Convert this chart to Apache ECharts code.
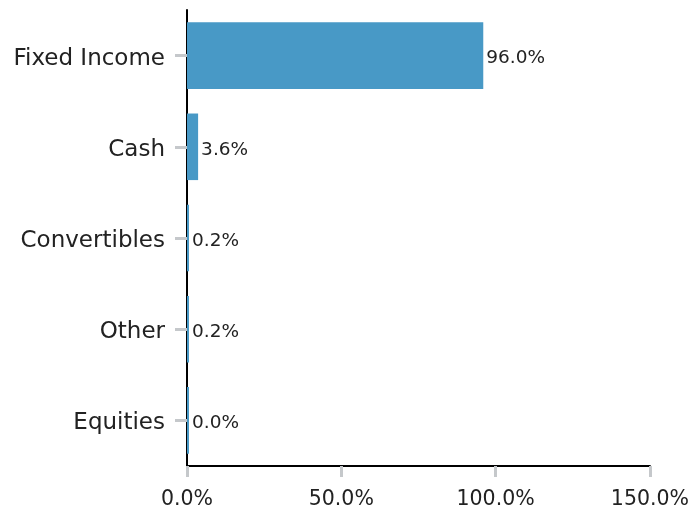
<!DOCTYPE html>
<html><head><meta charset="utf-8">
<script src="https://cdn.jsdelivr.net/npm/echarts@6/dist/echarts.min.js"></script>
<style>html,body{margin:0;padding:0;background:#fff}#c{width:692px;height:514px}</style>
</head><body><div id="c"></div>
<script>
var categories = ["Fixed Income", "Cash", "Convertibles", "Other", "Equities"];
var values = [96.0, 3.6, 0.2, 0.2, 0.0];
var xTicks = [0, 50, 100, 150];

var font = "DejaVu Sans";
var chart = echarts.init(document.getElementById('c'));
chart.setOption({
  animation: false,
  grid: {left: 187, right: 38, top: 10, bottom: 48, containLabel: false},
  xAxis: {
    type: 'value', min: xTicks[0], max: xTicks[xTicks.length - 1], interval: 50,
    axisLine: {show: true, lineStyle: {color: '#000', width: 2}},
    axisTick: {show: true, length: 11, lineStyle: {color: '#c5c8cb', width: 3}},
    splitLine: {show: false},
    axisLabel: {margin: 23, fontSize: 20.5, color: '#222', fontFamily: font,
      formatter: function (v) { return v.toFixed(1) + '%'; }}
  },
  yAxis: {
    type: 'category', data: categories, inverse: true,
    axisLine: {show: true, lineStyle: {color: '#000', width: 2}},
    axisTick: {show: true, alignWithLabel: true, length: 12, lineStyle: {color: '#c5c8cb', width: 3}},
    axisLabel: {margin: 22, color: '#222', fontFamily: font,
      formatter: function (v) { return '{a|' + v + '}'; },
      rich: {a: {fontSize: 23, color: '#222', fontFamily: font, padding: [6, 0, 0, 0]}}}
  },
  series: [{
    type: 'bar', data: values, barCategoryGap: '27%', barMinHeight: 2,
    itemStyle: {color: '#4899c6'},
    label: {show: true, position: 'right', distance: 3, offset: [0, 3], fontSize: 18.5, color: '#222', fontFamily: font,
      formatter: function (p) { return p.value.toFixed(1) + '%'; }}
  }]
});
</script></body></html>
